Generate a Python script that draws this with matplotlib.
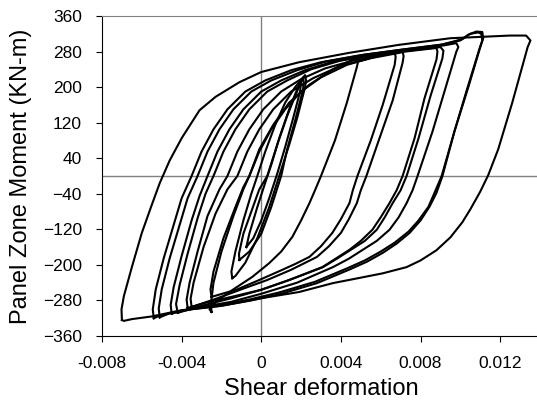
import matplotlib
matplotlib.use("Agg")
from matplotlib import pyplot as plt

plt.rcParams['font.family'] = ['Liberation Sans', 'DejaVu Sans']

# hysteresis cycles, each read off the picture as (shear deformation, moment) points
# path: negative peak -> loading branch -> positive peak -> unloading branch -> back
loop_outer = [
    (-0.0070, -324), (-0.00702, -300), (-0.0069, -270), (-0.0065, -205), (-0.0060, -128),
    (-0.0055, -65), (-0.0051, -16), (-0.0046, 35), (-0.0040, 85), (-0.0031, 148),
    (-0.0023, 178), (-0.0011, 211), (0.0, 234), (0.0019, 256), (0.0044, 277),
    (0.0069, 295), (0.0095, 310), (0.0125, 316), (0.0133, 316), (0.01352, 305),
    (0.01338, 290), (0.0126, 164), (0.0119, 60), (0.0114, 2), (0.0110, -35),
    (0.0105, -75), (0.0101, -104), (0.0095, -138), (0.0088, -167), (0.0080, -190),
    (0.0073, -205), (0.0061, -219), (0.0044, -234), (0.0036, -241), (0.0019, -261),
    (0.0, -275), (-0.002, -292), (-0.004, -302), (-0.0055, -316), (-0.0065, -322),
    (-0.0069, -326), (-0.0070, -324),
]
loop_7a = [
    (-0.0054, -320), (-0.00545, -300), (-0.0053, -255), (-0.0049, -185), (-0.0044, -110),
    (-0.0040, -50), (-0.0035, 0), (-0.0030, 55), (-0.0024, 105), (-0.0017, 150),
    (-0.0008, 190), (0.0002, 215), (0.0015, 238), (0.0030, 256), (0.0050, 272),
    (0.0070, 284), (0.0090, 295), (0.0100, 305), (0.0104, 318), (0.0108, 325),
    (0.0111, 324), (0.01115, 310), (0.0110, 290), (0.0104, 200), (0.0097, 100),
    (0.0091, 0), (0.0088, -38), (0.00845, -69), (0.0080, -100), (0.00745, -128),
    (0.0068, -152), (0.0061, -173), (0.0053, -193), (0.0044, -211), (0.0028, -241),
    (0.0010, -265), (-0.0005, -280), (-0.002, -292), (-0.0035, -300), (-0.0045, -308),
    (-0.0052, -316), (-0.0054, -320),
]
loop_7b = [
    (-0.0051, -318), (-0.00515, -298), (-0.0050, -255), (-0.0046, -185), (-0.0041, -110),
    (-0.0037, -50), (-0.0032, 0), (-0.0027, 55), (-0.0021, 105), (-0.0014, 150),
    (-0.0005, 190), (0.0005, 215), (0.0018, 238), (0.0032, 257), (0.0052, 273),
    (0.0072, 285), (0.0091, 296), (0.0101, 308), (0.0105, 320), (0.0109, 323),
    (0.01105, 320), (0.0111, 305), (0.01095, 285), (0.0103, 190), (0.0097, 100),
    (0.00906, 0), (0.0087, -38), (0.0084, -69), (0.0079, -100), (0.0074, -125),
    (0.0067, -150), (0.0060, -170), (0.0052, -190), (0.0043, -208), (0.0027, -238),
    (0.0009, -262), (-0.0006, -278), (-0.002, -290), (-0.0035, -299), (-0.0045, -307),
    (-0.0051, -318),
]
loop_6 = [
    (-0.0045, -310), (-0.00455, -290), (-0.0044, -250), (-0.0040, -180), (-0.0035, -100),
    (-0.0031, -45), (-0.0027, 0), (-0.0022, 55), (-0.0016, 105), (-0.0009, 150),
    (0.0, 190), (0.0010, 215), (0.0022, 238), (0.0035, 256), (0.0055, 272),
    (0.0075, 285), (0.0092, 294), (0.0098, 299), (0.0099, 290), (0.0098, 280),
    (0.0092, 190), (0.0086, 100), (0.00785, 0), (0.0076, -32), (0.0073, -61),
    (0.0069, -93), (0.00644, -121), (0.0058, -146), (0.0051, -166), (0.0044, -186),
    (0.0036, -205), (0.0018, -240), (0.0, -265), (-0.0015, -283), (-0.003, -295),
    (-0.004, -303), (-0.0045, -310),
]
loop_5 = [
    (-0.0042, -308), (-0.00428, -288), (-0.0041, -245), (-0.0037, -175), (-0.0032, -95),
    (-0.0028, -40), (-0.0024, 0), (-0.0019, 55), (-0.0013, 105), (-0.0006, 150),
    (0.0003, 190), (0.0013, 215), (0.0025, 240), (0.0040, 260), (0.0060, 275),
    (0.0080, 285), (0.0090, 290), (0.00915, 282), (0.0091, 265), (0.0085, 180),
    (0.0079, 85), (0.0073, 0), (0.0070, -32), (0.0066, -61), (0.0062, -93),
    (0.0058, -121), (0.0052, -146), (0.0045, -166), (0.0038, -186), (0.0031, -205),
    (0.0014, -234), (0.0, -256), (-0.0015, -275), (-0.003, -292), (-0.0042, -308),
]
loop_4 = [
    (-0.0037, -297), (-0.00375, -278), (-0.0036, -240), (-0.0032, -170), (-0.0027, -90),
    (-0.0021, -30), (-0.0017, 0), (-0.0012, 55), (-0.0006, 105), (0.0001, 150),
    (0.0010, 190), (0.0020, 218), (0.0032, 242), (0.0048, 262), (0.0065, 276),
    (0.0080, 284), (0.0088, 288), (0.00885, 280), (0.0088, 262), (0.0082, 175),
    (0.0077, 85), (0.0071, 0), (0.0068, -32), (0.00644, -61), (0.0060, -93),
    (0.00558, -121), (0.0050, -146), (0.00443, -166), (0.0037, -187), (0.00307, -205),
    (0.00141, -234), (0.0, -256), (-0.0015, -272), (-0.0028, -285), (-0.0037, -297),
]
loop_3 = [
    (-0.0035, -295), (-0.00355, -276), (-0.0034, -240), (-0.0029, -160), (-0.0023, -85),
    (-0.0017, -30), (-0.0012, 0), (-0.0007, 55), (-0.0001, 105), (0.0006, 150),
    (0.0015, 190), (0.0026, 220), (0.0040, 248), (0.0055, 265), (0.0068, 276),
    (0.0071, 279), (0.00715, 270), (0.0071, 255), (0.0066, 170), (0.0059, 80),
    (0.00528, 0), (0.0050, -32), (0.0048, -61), (0.0044, -97), (0.0040, -128),
    (0.0034, -158), (0.0028, -182), (0.0015, -211), (0.0003, -234), (-0.001, -255),
    (-0.0022, -275), (-0.0035, -295),
]
loop_2 = [
    (-0.0025, -272), (-0.00255, -255), (-0.0024, -215), (-0.0019, -140), (-0.0013, -70),
    (-0.0009, -25), (-0.0006, 0), (-0.0001, 55), (0.0005, 105), (0.0012, 150),
    (0.0020, 190), (0.0030, 222), (0.0043, 250), (0.0057, 268), (0.0066, 276),
    (0.0067, 277), (0.00675, 268), (0.0067, 250), (0.0061, 160), (0.0055, 80),
    (0.00483, 0), (0.0046, -32), (0.00443, -61), (0.0040, -97), (0.00357, -128),
    (0.0030, -158), (0.00242, -182), (0.0017, -198), (0.00106, -211), (-0.0001, -234),
    (-0.0012, -255), (-0.0025, -272),
]
loop_1 = [
    (-0.0025, -306), (-0.00252, -285), (-0.0024, -240), (-0.0020, -170), (-0.0014, -90),
    (-0.0009, -30), (-0.0006, 0), (-0.0001, 60), (0.0006, 115), (0.0014, 165),
    (0.0024, 205), (0.0036, 240), (0.0046, 262), (0.0048, 265), (0.00485, 255),
    (0.0048, 245), (0.0043, 165), (0.0037, 80), (0.0030, 0), (0.0027, -32),
    (0.00242, -61), (0.0020, -100), (0.00156, -137), (0.0010, -170), (0.0004, -196),
    (-0.00045, -227), (-0.0014, -255), (-0.0022, -280), (-0.0026, -300), (-0.0025, -306),
]
loop_inner_a = [
    (-0.00146, -230), (-0.0015, -215), (-0.0013, -170), (-0.0009, -100), (-0.0005, -40),
    (-0.0002, 0), (0.0002, 55), (0.0007, 115), (0.0012, 165), (0.0017, 200),
    (0.0022, 227), (0.00225, 215), (0.0022, 200), (0.0018, 130), (0.0014, 70),
    (0.0009, 0), (0.0004, -70), (-0.0002, -140), (-0.0008, -195), (-0.0013, -225),
    (-0.00146, -230),
]
loop_inner_b = [
    (-0.0011, -189), (-0.00112, -175), (-0.0009, -130), (-0.0005, -80), (-0.0001, -30),
    (0.0003, 0), (0.0008, 70), (0.0013, 135), (0.0017, 180), (0.0021, 222),
    (0.00213, 212), (0.0021, 195), (0.0017, 125), (0.0013, 60), (0.0010, 0),
    (0.0005, -70), (0.0, -130), (-0.0006, -170), (-0.0011, -189),
]
loop_inner_c = [
    (-0.00075, -160), (-0.0006, -130), (-0.0002, -70), (0.0002, -15), (0.0005, 25),
    (0.0009, 85), (0.0014, 150), (0.0018, 195), (0.0020, 215), (0.00195, 190),
    (0.0016, 130), (0.0012, 65), (0.0008, 5), (0.0004, -50), (0.0, -100),
    (-0.0004, -140), (-0.00075, -160),
]

loops = [loop_outer, loop_7a, loop_7b, loop_6, loop_5, loop_4, loop_3,
         loop_2, loop_1, loop_inner_a, loop_inner_b, loop_inner_c]

x_ticks = [-0.008, -0.004, 0, 0.004, 0.008, 0.012]
x_tick_labels = ["-0.008", "-0.004", "0", "0.004", "0.008", "0.012"]
y_ticks = [-360, -280, -200, -120, -40, 40, 120, 200, 280, 360]

fig = plt.figure(figsize=(5.37, 4.04), dpi=100)
ax = fig.add_axes([102 / 537, 68 / 404, 438 / 537, 320 / 404])

ax.axhline(0, color="#808080", lw=1.0, zorder=1)
ax.axvline(0, color="#808080", lw=1.0, zorder=1)

for loop in loops:
    xs = [p[0] for p in loop]
    ys = [p[1] for p in loop]
    ax.plot(xs, ys, color="black", lw=1.5, solid_joinstyle="round", zorder=2)

ax.set_xlim(-0.008, 0.014)
ax.set_ylim(-360, 360)
ax.set_xticks(x_ticks)
ax.set_xticklabels(x_tick_labels)
ax.set_yticks(y_ticks)
ax.tick_params(axis="both", direction="out", length=4, width=0.8, labelsize=12.5, pad=10.5)

ax.spines["top"].set_color("#808080")
ax.spines["right"].set_visible(False)
for side in ("left", "bottom"):
    ax.spines[side].set_color("black")
    ax.spines[side].set_linewidth(0.8)

ax.set_xlabel("Shear deformation", fontsize=17, labelpad=5)
ax.set_ylabel("Panel Zone Moment (KN-m)", fontsize=17, labelpad=8)

fig.savefig("out.png", dpi=100)
